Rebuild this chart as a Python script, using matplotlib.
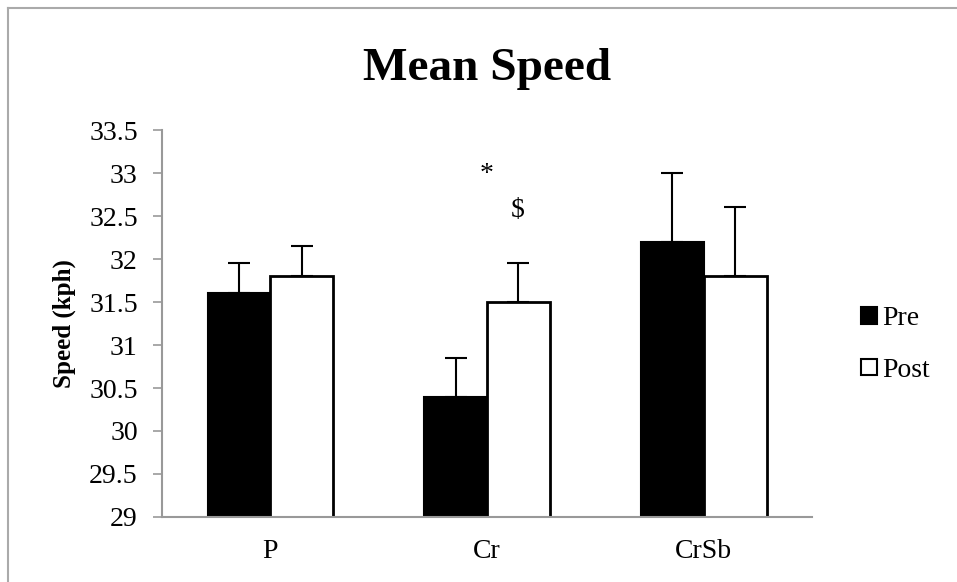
import matplotlib
matplotlib.use("Agg")
import matplotlib.pyplot as plt
import numpy as np
from matplotlib.lines import Line2D
from matplotlib.patches import Rectangle

categories = ["P", "Cr", "CrSb"]
pre_mean = [31.6, 30.4, 32.2]
post_mean = [31.8, 31.5, 31.8]
pre_err = [0.35, 0.45, 0.8]
post_err = [0.35, 0.45, 0.8]
y_ticks = [29, 29.5, 30, 30.5, 31, 31.5, 32, 32.5, 33, 33.5]

plt.rcParams["font.family"] = ["Liberation Serif", "DejaVu Serif"]

fig = plt.figure(figsize=(9.57, 5.82), dpi=100)
ax = fig.add_axes([0.1693, 0.1117, 0.6792, 0.6649])

x = np.arange(len(categories))
w = 0.29
ax.bar(x - w / 2, pre_mean, w, color="black", edgecolor="black",
       linewidth=1.5, label="Pre", zorder=2)
ax.bar(x + w / 2, post_mean, w, color="white", edgecolor="black",
       linewidth=2, label="Post", zorder=2)
ax.errorbar(x - w / 2, pre_mean, yerr=[np.zeros(3), pre_err], fmt="none",
            ecolor="black", elinewidth=1.5, capsize=8, capthick=1.5, zorder=1)
ax.errorbar(x + w / 2, post_mean, yerr=[np.zeros(3), post_err], fmt="none",
            ecolor="black", elinewidth=1.5, capsize=8, capthick=1.5, zorder=1)

ax.set_xlim(-0.5, 2.5)
ax.set_ylim(29, 33.5)
ax.set_yticks(y_ticks)
ax.set_yticklabels([f"{t:g}" for t in y_ticks], fontsize=20)
ax.set_xticks(x)
ax.set_xticklabels(categories, fontsize=20)
ax.tick_params(axis="x", length=0, pad=16)
ax.tick_params(axis="y", length=6.5, width=1.2, color="#999999", pad=11)
for s in ["top", "right"]:
    ax.spines[s].set_visible(False)
for s in ["left", "bottom"]:
    ax.spines[s].set_color("#999999")
    ax.spines[s].set_linewidth(1.5)
ax.set_ylabel("Speed (kph)", fontsize=18, fontweight="bold")
ax.yaxis.set_label_coords(-0.132, 0.5)

# significance markers over Cr
ax.text(1.0, 32.98, "*", fontsize=20, ha="center", va="center")
ax.text(1.14, 32.56, "$", fontsize=20, ha="center", va="center")

fig.text(0.509, 0.882, "Mean Speed", fontsize=34, fontweight="bold",
         ha="center", va="center")

handles = [Rectangle((0, 0), 1, 1, facecolor="black", edgecolor="black", lw=1.5),
           Rectangle((0, 0), 1, 1, facecolor="white", edgecolor="black", lw=1.5)]
fig.legend(handles, ["Pre", "Post"], loc="center left",
           bbox_to_anchor=(0.9, 0.408), frameon=False, fontsize=20,
           handlelength=0.55, handleheight=0.55, handletextpad=0.2,
           labelspacing=0.95, borderaxespad=0, borderpad=0)

# chart area border (top and left visible)
fig.add_artist(Line2D([8 / 957, 8 / 957], [0, 1 - 8 / 582], color="#aaaaaa", lw=1.5))
fig.add_artist(Line2D([8 / 957, 1], [1 - 8 / 582, 1 - 8 / 582], color="#aaaaaa", lw=1.5))

fig.savefig("out.png", dpi=100)
